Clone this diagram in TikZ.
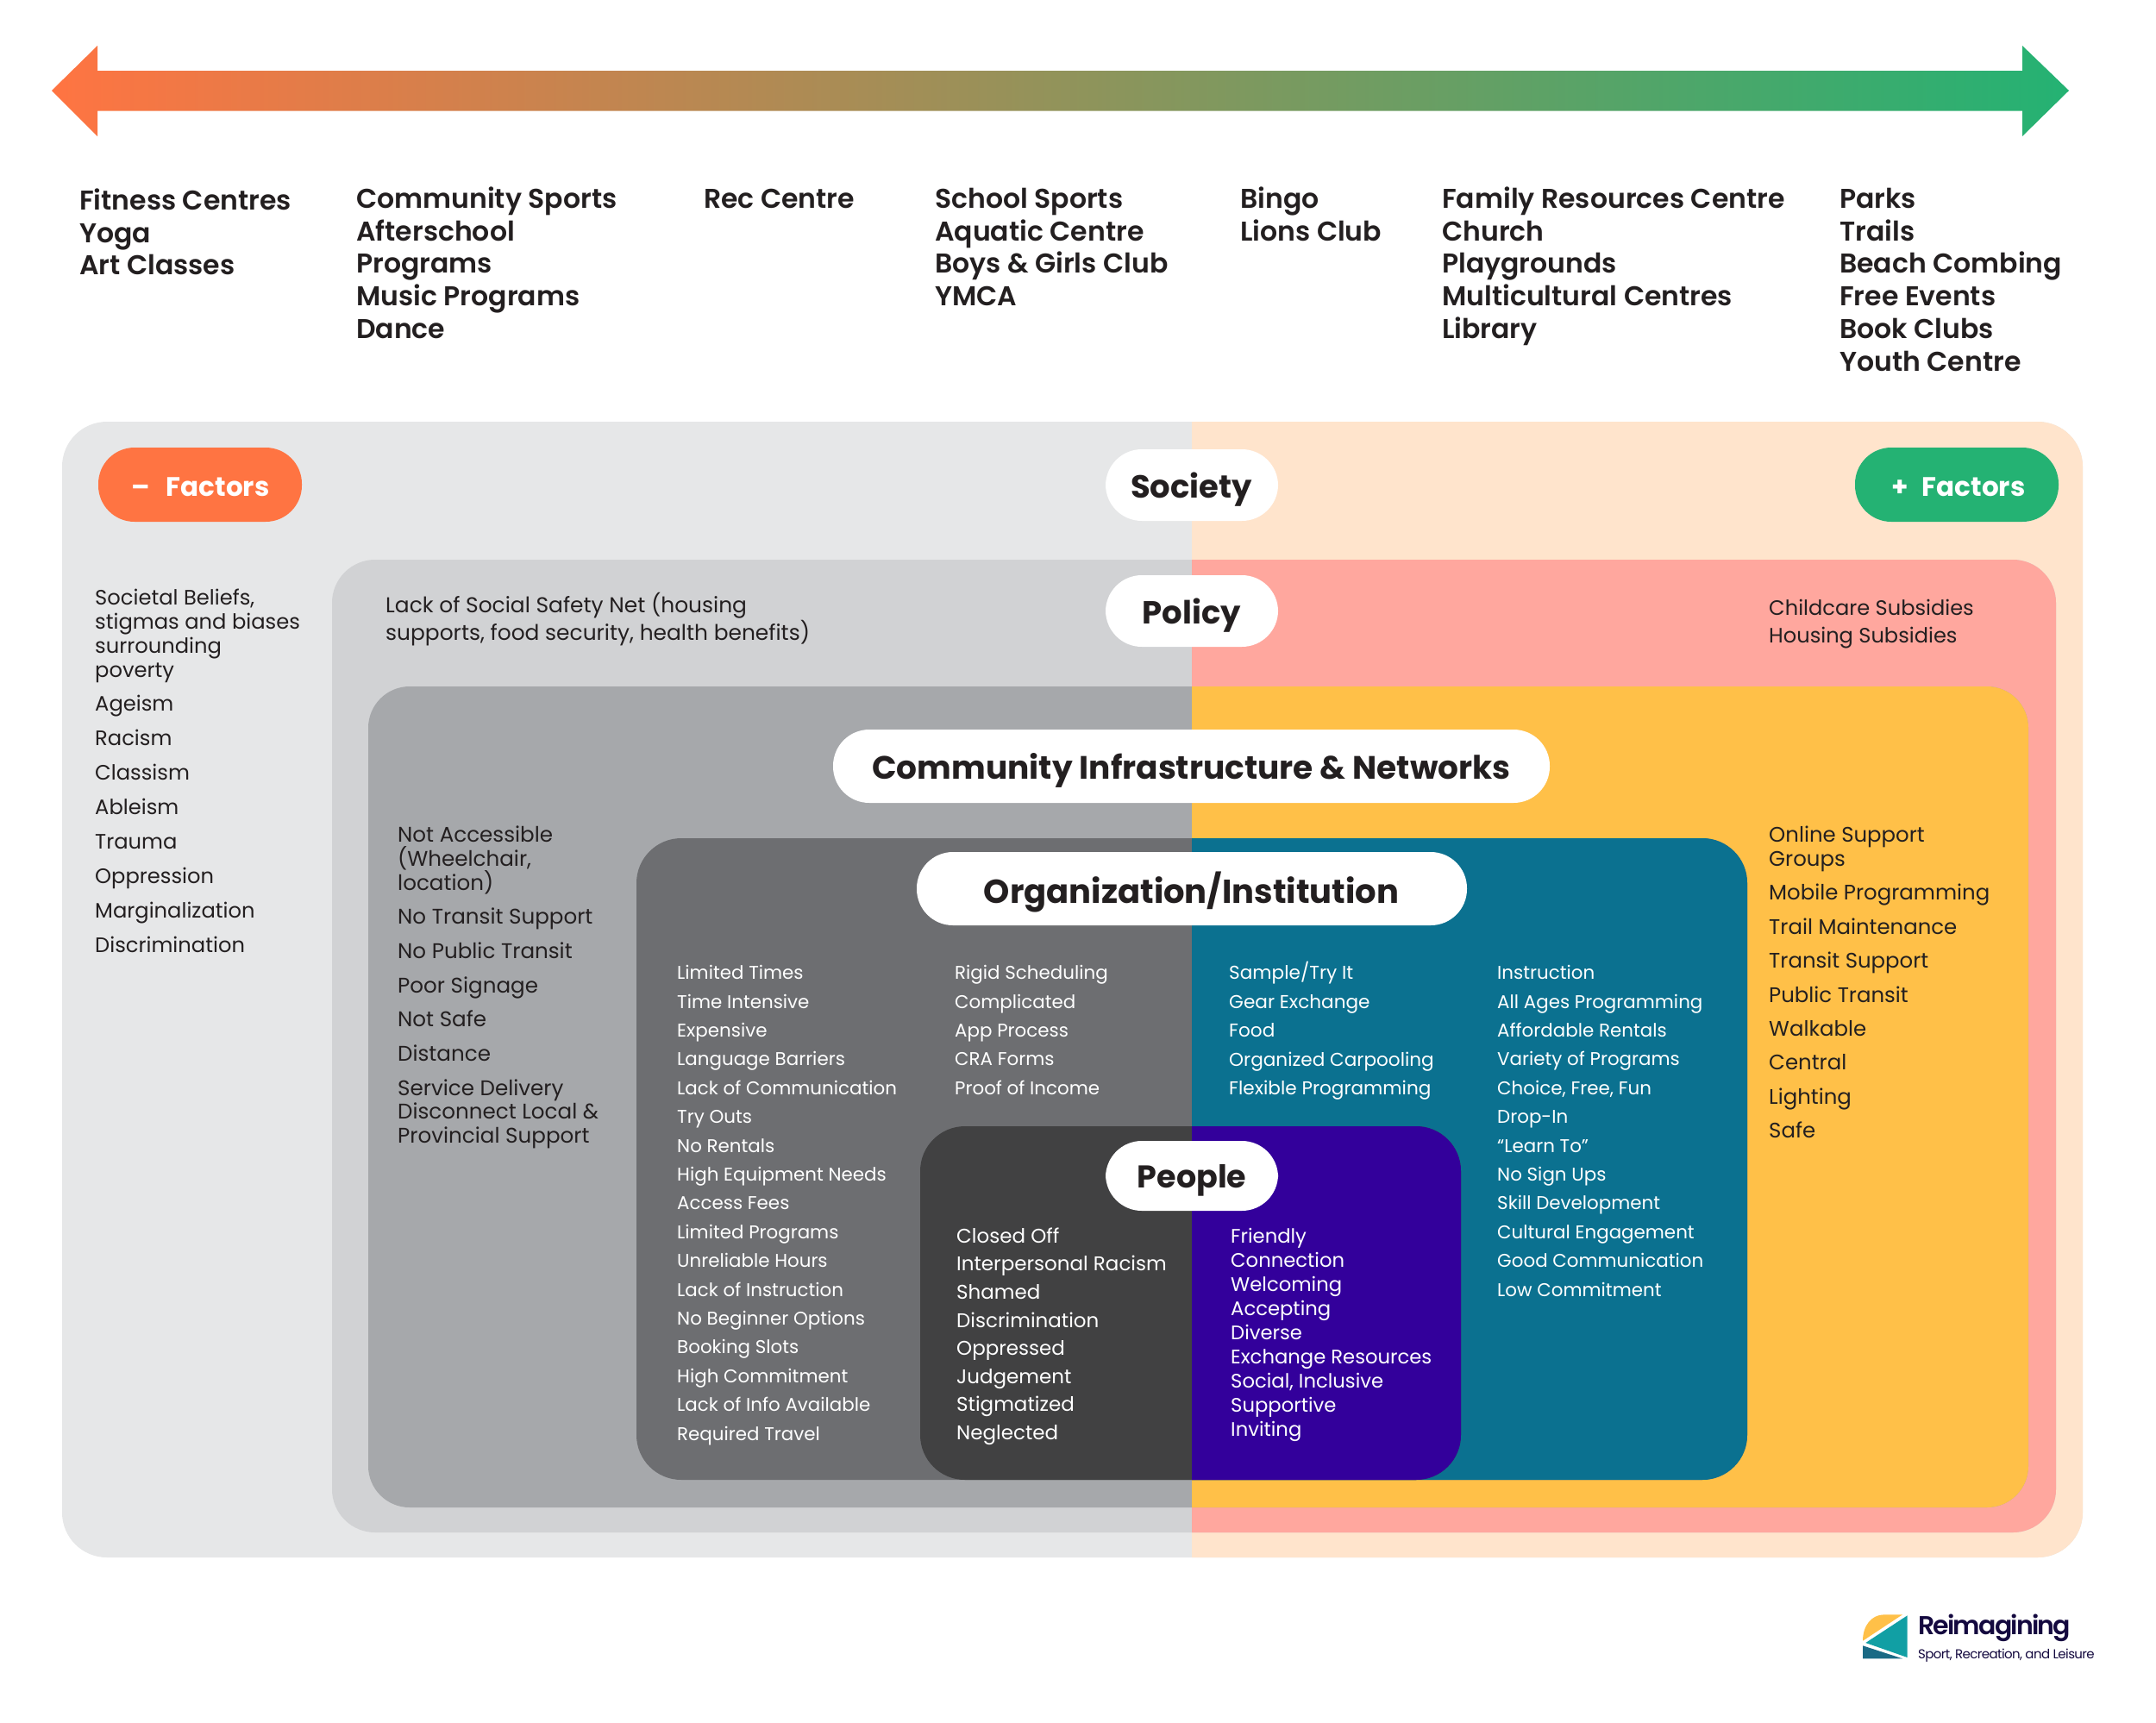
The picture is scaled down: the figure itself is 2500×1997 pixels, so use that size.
\documentclass[tikz,border=0pt]{standalone}
\usepackage{fontspec}
\setmainfont{Poppins}
\newfontfamily\hd{Poppins}[UprightFont=*-SemiBold]
\newfontfamily\hb{Poppins}[UprightFont=*-Bold]
\definecolor{ink}{HTML}{231F20}
\definecolor{orng}{HTML}{FF7442}
\definecolor{grn}{HTML}{24B273}
\definecolor{lg}{HTML}{E6E7E8}\definecolor{pch}{HTML}{FFE4CC}
\definecolor{pg}{HTML}{D1D2D4}\definecolor{sal}{HTML}{FFA79E}
\definecolor{cg}{HTML}{A6A8AB}\definecolor{yel}{HTML}{FFC048}
\definecolor{og}{HTML}{6D6E71}\definecolor{tl}{HTML}{0B7190}
\definecolor{pp}{HTML}{414142}\definecolor{pur}{HTML}{33009B}
\definecolor{logoink}{HTML}{14093F}
\definecolor{logoteal}{HTML}{119FA4}
\definecolor{logodark}{HTML}{1A6A85}
\newcommand{\splitbox}[7]{%
  \fill[#6,rounded corners=#5] (#1,#2) rectangle (#3,#4);
  \begin{scope}\clip (1382,#2) rectangle (#3,#4);
  \fill[#7,rounded corners=#5] (#1,#2) rectangle (#3,#4);\end{scope}}
\newcommand{\LL}[7][ink]{% color, name, x, ycenter, size, lead, text
  \pgfmathsetmacro\tp{#4-0.84*#5}
  \pgfmathsetmacro\sth{1.1*#5}
  \node[listtext,text=#1,font=\fontsize{#5}{#6}\selectfont] (#2) at (#3,\tp) {\rule{0pt}{\sth pt}#7};}
\tikzset{
  listtext/.style={anchor=north west,inner sep=0pt,align=left},
  pill/.style={fill=white,rounded corners=42pt},
  pilltext/.style={inner sep=0pt,text=ink},
}
\begin{document}
\begin{tikzpicture}[x=1pt,y=-1pt]
\useasboundingbox (0,0) rectangle (2500,1997);
\shade[left color=orng,right color=grn] (60,105) -- (113,53) -- (113,82) -- (2345,82) -- (2345,53) -- (2399,105) -- (2345,158) -- (2345,128.6) -- (113,128.6) -- (113,158) -- cycle;
% top lists
\LL{t1}{92}{235}{31.5}{37.8}{\hd Fitness Centres\\\hd Yoga\\\hd Art Classes}
\LL{t2}{413}{233}{31.5}{37.8}{\hd Community Sports\\\hd Afterschool\\\hd Programs\\\hd Music Programs\\\hd Dance}
\LL{t3}{816}{233}{31.5}{37.8}{\hd Rec Centre}
\LL{t4}{1084}{233}{31.5}{37.8}{\hd School Sports\\\hd Aquatic Centre\\\hd Boys \& Girls Club\\\hd YMCA}
\LL{t5}{1438}{233}{31.5}{37.8}{\hd Bingo\\\hd Lions Club}
\LL{t6}{1672}{233}{31.5}{37.8}{\hd Family Resources Centre\\\hd Church\\\hd Playgrounds\\\hd Multicultural Centres\\\hd Library}
\LL{t7}{2133}{233}{31.5}{37.8}{\hd Parks\\\hd Trails\\\hd Beach Combing\\\hd Free Events\\\hd Book Clubs\\\hd Youth Centre}
% boxes
\splitbox{72}{489}{2415}{1806}{52}{lg}{pch}
\splitbox{385}{649}{2384}{1777}{50}{pg}{sal}
\splitbox{427}{796}{2352}{1748}{48}{cg}{yel}
\splitbox{738}{972}{2026}{1716}{52}{og}{tl}
\splitbox{1067}{1306}{1694}{1716}{52}{pp}{pur}
% pills
\fill[orng,rounded corners=42pt] (114,519) rectangle (350,605);
\node[pilltext,text=white,font=\hb\fontsize{31}{36}\selectfont] (fminus) at (232.5,565) {–\hspace{0.6em}Factors};
\fill[grn,rounded corners=42pt] (2151,519) rectangle (2387,605);
\node[pilltext,text=white,font=\hb\fontsize{31}{36}\selectfont] (fplus) at (2271,565) {+\hspace{0.5em}Factors};
\fill[pill] (1282,521) rectangle (1482,604);
\node[pilltext,font=\hb\fontsize{37}{44}\selectfont] (society) at (1381.5,568) {Society};
\fill[pill] (1282,667) rectangle (1482,750);
\node[pilltext,font=\hb\fontsize{37}{44}\selectfont] (policy) at (1382,714) {Policy};
\fill[pill] (966,846) rectangle (1797,931);
\node[pilltext,font=\hb\fontsize{37.5}{44}\selectfont] (community) at (1381.5,893) {Community Infrastructure \& Networks};
\fill[pill] (1063,988) rectangle (1701,1073);
\node[pilltext,font=\hb\fontsize{38.5}{44}\selectfont] (org) at (1381.5,1034) {Organization/Institution};
\fill[pill] (1282,1323) rectangle (1482,1404);
\node[pilltext,font=\hb\fontsize{36.5}{44}\selectfont] (people) at (1382,1369) {People};
% society
\LL{s1}{110}{695}{24.2}{28}{Societal Beliefs,\\stigmas and biases\\surrounding\\poverty\\[11pt]Ageism\\[12pt]Racism\\[12pt]Classism\\[12pt]Ableism\\[12pt]Trauma\\[12pt]Oppression\\[12pt]Marginalization\\[12pt]Discrimination}
% policy
\LL{p1}{447}{704}{24.9}{32}{Lack of Social Safety Net (housing\\supports, food security, health benefits)}
\LL{p2}{2051}{707}{24.1}{32}{Childcare Subsidies\\Housing Subsidies}
% community
\LL{c1}{461}{970}{24.6}{27.7}{Not Accessible\\(Wheelchair,\\location)\\[12pt]No Transit Support\\[12pt]No Public Transit\\[12pt]Poor Signage\\[12pt]Not Safe\\[12pt]Distance\\[12pt]Service Delivery\\Disconnect Local \&\\Provincial Support}
\LL{c2}{2051}{970}{24.4}{28}{Online Support\\Groups\\[11.4pt]Mobile Programming\\[11.4pt]Trail Maintenance\\[11.4pt]Transit Support\\[11.4pt]Public Transit\\[11.4pt]Walkable\\[11.4pt]Central\\[11.4pt]Lighting\\[11.4pt]Safe}
% org
\LL[white]{o1}{785}{1130}{21.4}{33.4}{Limited Times\\Time Intensive\\Expensive\\Language Barriers\\Lack of Communication\\Try Outs\\No Rentals\\High Equipment Needs\\Access Fees\\Limited Programs\\Unreliable Hours\\Lack of Instruction\\No Beginner Options\\Booking Slots\\High Commitment\\Lack of Info Available\\Required Travel}
\LL[white]{o2}{1107}{1130}{21.4}{33.4}{Rigid Scheduling\\Complicated\\App Process\\CRA Forms\\Proof of Income}
\LL[white]{o3}{1425}{1130}{21.6}{33.4}{Sample/Try It\\Gear Exchange\\Food\\Organized Carpooling\\Flexible Programming}
\LL[white]{o4}{1736}{1130}{21.4}{33.4}{Instruction\\All Ages Programming\\Affordable Rentals\\Variety of Programs\\Choice, Free, Fun\\Drop-In\\“Learn To”\\No Sign Ups\\Skill Development\\Cultural Engagement\\Good Communication\\Low Commitment}
% people
\LL[white]{h1}{1109}{1435}{23}{32.6}{Closed Off\\Interpersonal Racism\\Shamed\\Discrimination\\Oppressed\\Judgement\\Stigmatized\\Neglected}
\LL[white]{h2}{1427}{1435}{22.7}{28}{Friendly\\Connection\\Welcoming\\Accepting\\Diverse\\Exchange Resources\\Social, Inclusive\\Supportive\\Inviting}
% logo
\fill[yel] (2160,1902.7) .. controls (2160,1885) and (2170,1872.3) .. (2185,1872.3) -- (2206,1872.3) -- cycle;
\fill[logoteal] (2211.7,1873.3) -- (2211.7,1922) -- (2163.3,1905) -- cycle;
\fill[logodark] (2160,1908.3) -- (2206,1923.3) -- (2160,1923.3) -- cycle;
\node[anchor=base west,inner sep=0pt,text=logoink,font=\hd\fontsize{30}{36}\selectfont\addfontfeatures{LetterSpace=-6}] (logo1) at (2224,1895) {Reimagining};
\node[anchor=base west,inner sep=0pt,text=logoink,font=\fontsize{15}{18}\selectfont\addfontfeatures{LetterSpace=-4}] (logo2) at (2224,1923) {Sport, Recreation, and Leisure};
\end{tikzpicture}
\end{document}
